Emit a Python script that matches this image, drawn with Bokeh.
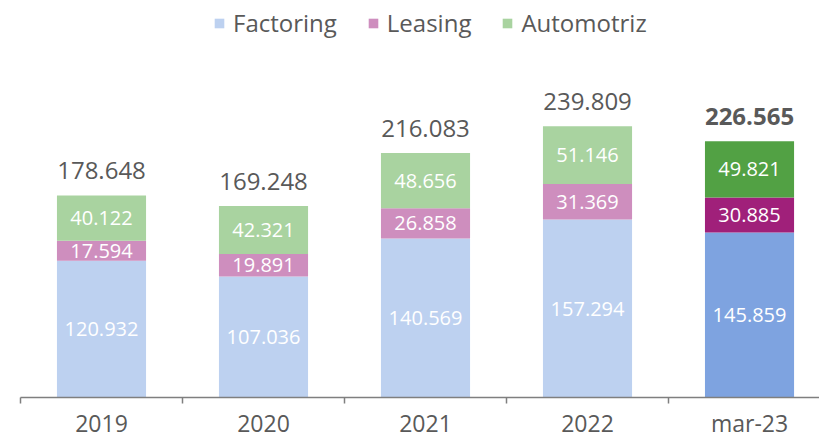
from bokeh.plotting import figure
from bokeh.models import ColumnDataSource, Range1d, FixedTicker, Legend, LegendItem
from bokeh.core.properties import value
from bokeh.embed import file_html
from bokeh.resources import INLINE

categories = ["2019", "2020", "2021", "2022", "mar-23"]
factoring = [120932, 107036, 140569, 157294, 145859]
leasing = [17594, 19891, 26858, 31369, 30885]
automotriz = [40122, 42321, 48656, 51146, 49821]

light_colors = {"Factoring": "#BDD1F0", "Leasing": "#CE8EBE", "Automotriz": "#A9D3A0"}
dark_colors = {"Factoring": "#7EA3E0", "Leasing": "#A0207A", "Automotriz": "#52A144"}

FONT = "Open Sans"
TXT = "#595959"

def fmt(v):
    return f"{v:,}".replace(",", ".")

n = len(categories)
xs = [i + 0.5 for i in range(n)]
b_lease = factoring[:]
b_auto = [f + l for f, l in zip(factoring, leasing)]
totals = [f + l + a for f, l, a in zip(factoring, leasing, automotriz)]

p = figure(width=819, height=441, output_backend="svg", toolbar_location=None,
           x_range=Range1d(0, 4.932), y_range=Range1d(0, 351000),
           min_border_left=20, min_border_right=0, min_border_top=0, min_border_bottom=40)
p.outline_line_color = None
p.xgrid.visible = False
p.ygrid.visible = False
p.yaxis.visible = False

W = 0.55
series = [("Factoring", [0] * n, factoring), ("Leasing", b_lease, leasing), ("Automotriz", b_auto, automotriz)]
legend_items = []
for name, bottoms, vals in series:
    tops = [b + v for b, v in zip(bottoms, vals)]
    src_l = ColumnDataSource(dict(x=xs[:-1], b=bottoms[:-1], t=tops[:-1]))
    src_d = ColumnDataSource(dict(x=xs[-1:], b=bottoms[-1:], t=tops[-1:]))
    r = p.vbar(x="x", bottom="b", top="t", width=W, source=src_l,
               fill_color=light_colors[name], line_color=None)
    p.vbar(x="x", bottom="b", top="t", width=W, source=src_d,
           fill_color=dark_colors[name], line_color=None)
    legend_items.append(LegendItem(label=name, renderers=[r]))
    lab = ColumnDataSource(dict(x=xs, y=[b + v / 2 for b, v in zip(bottoms, vals)],
                                t=[fmt(v) for v in vals]))
    p.text(x="x", y="y", text="t", source=lab, text_align="center", text_baseline="middle",
           text_font=value(FONT), text_font_size="20px", text_color="white")

tot_l = ColumnDataSource(dict(x=xs[:-1], y=totals[:-1], t=[fmt(v) for v in totals[:-1]]))
tot_d = ColumnDataSource(dict(x=xs[-1:], y=totals[-1:], t=[fmt(v) for v in totals[-1:]]))
p.text(x="x", y="y", text="t", source=tot_l, text_align="center", text_baseline="middle",
       y_offset=-25, text_font=value(FONT), text_font_size="24px", text_color=TXT)
p.text(x="x", y="y", text="t", source=tot_d, text_align="center", text_baseline="middle",
       y_offset=-25, text_font=value(FONT), text_font_size="24px", text_color=TXT,
       text_font_style="bold")

ax = p.xaxis[0]
ax.ticker = FixedTicker(ticks=xs, minor_ticks=list(range(n + 1)))
ax.major_label_overrides = {x: c for x, c in zip(xs, categories)}
ax.major_tick_out = 0
ax.major_tick_in = 0
ax.minor_tick_out = 6
ax.minor_tick_in = 0
ax.minor_tick_line_color = "#7F7F7F"
ax.minor_tick_line_width = 1.5
ax.axis_line_color = "#7F7F7F"
ax.axis_line_width = 1.5
ax.major_label_standoff = 3
ax.major_label_text_font = FONT
ax.major_label_text_font_size = "23px"
ax.major_label_text_color = TXT

legend = Legend(items=legend_items, orientation="horizontal", location=(193, 358),
                glyph_width=12, glyph_height=12, label_standoff=8, spacing=30,
                padding=0, margin=0, border_line_color=None, background_fill_alpha=0,
                label_text_font=FONT, label_text_font_size="24px", label_text_color=TXT)
p.add_layout(legend)

open("out.html", "w").write(file_html(p, INLINE))
